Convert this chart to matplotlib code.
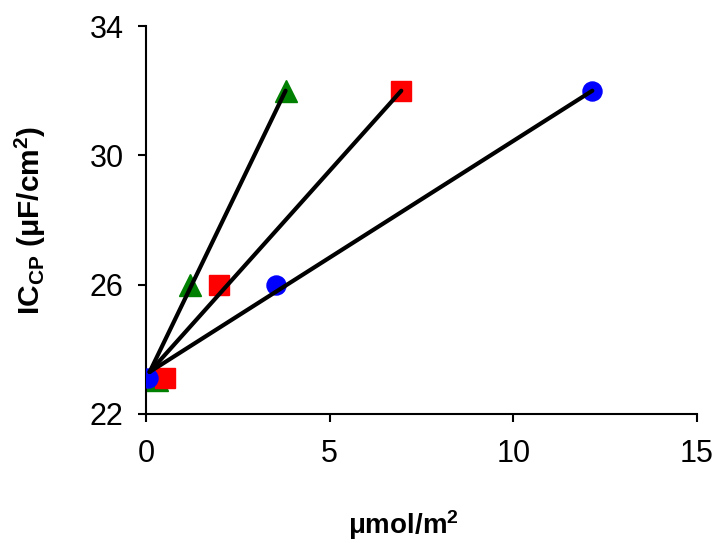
import numpy as np
import matplotlib
matplotlib.use("Agg")
import matplotlib.pyplot as plt

plt.rcParams['font.family'] = ['Liberation Sans', 'DejaVu Sans']
plt.rcParams['mathtext.fontset'] = 'custom'
plt.rcParams['mathtext.rm'] = 'Liberation Sans:bold'
plt.rcParams['mathtext.bf'] = 'Liberation Sans:bold'
plt.rcParams['mathtext.default'] = 'rm'

# measured points (x in umol/m2, y in uF/cm2)
tri_x = [0.3, 1.2, 3.8]
tri_y = [23.05, 26.0, 32.0]
sq_x = [0.52, 2.0, 6.95]
sq_y = [23.1, 26.0, 32.0]
circ_x = [0.05, 3.55, 12.15]
circ_y = [23.12, 26.0, 32.0]

# straight lines from a common start to the last point of each set
line_start = (0.1, 23.3)
line_end_x = [3.8, 6.95, 12.15]
line_end_y = [32.0, 32.0, 32.0]

x_ticks = [0, 5, 10, 15]
y_ticks = [22, 26, 30, 34]

fig = plt.figure(figsize=(7.18, 5.43), dpi=100)
ax = fig.add_axes([0.2033, 0.2376, 0.7675, 0.7144])

ax.plot(tri_x, tri_y, '^', color='#008000', ms=15.5, mec='#008000', zorder=2)
ax.plot(sq_x, sq_y, 's', color='#ff0000', ms=14.4, mec='#ff0000', zorder=3)
ax.plot(circ_x, circ_y, 'o', color='#0000ff', ms=13.7, mec='#0000ff', zorder=4)

for xe, ye in zip(line_end_x, line_end_y):
    ax.plot([line_start[0], xe], [line_start[1], ye], color='black', lw=3,
            solid_capstyle='round', zorder=5)

ax.set_xlim(0, 15)
ax.set_ylim(22, 34)
ax.set_xticks(x_ticks)
ax.set_yticks(y_ticks)
ax.spines['top'].set_visible(False)
ax.spines['right'].set_visible(False)
for s in ('left', 'bottom'):
    ax.spines[s].set_linewidth(1.5)
ax.tick_params(direction='out', length=6, width=1.5, labelsize=22)
ax.tick_params(axis='x', pad=12)
ax.tick_params(axis='y', pad=10)

ax.set_xlabel('μmol/m$^2$', fontsize=20, fontweight='bold', labelpad=28)
ax.xaxis.label.set_x(0.468)
ax.set_ylabel('IC$_{CP}$ (μF/cm$^2$)', fontsize=21.5, fontweight='bold', labelpad=30)

fig.savefig('out.png', dpi=100)
